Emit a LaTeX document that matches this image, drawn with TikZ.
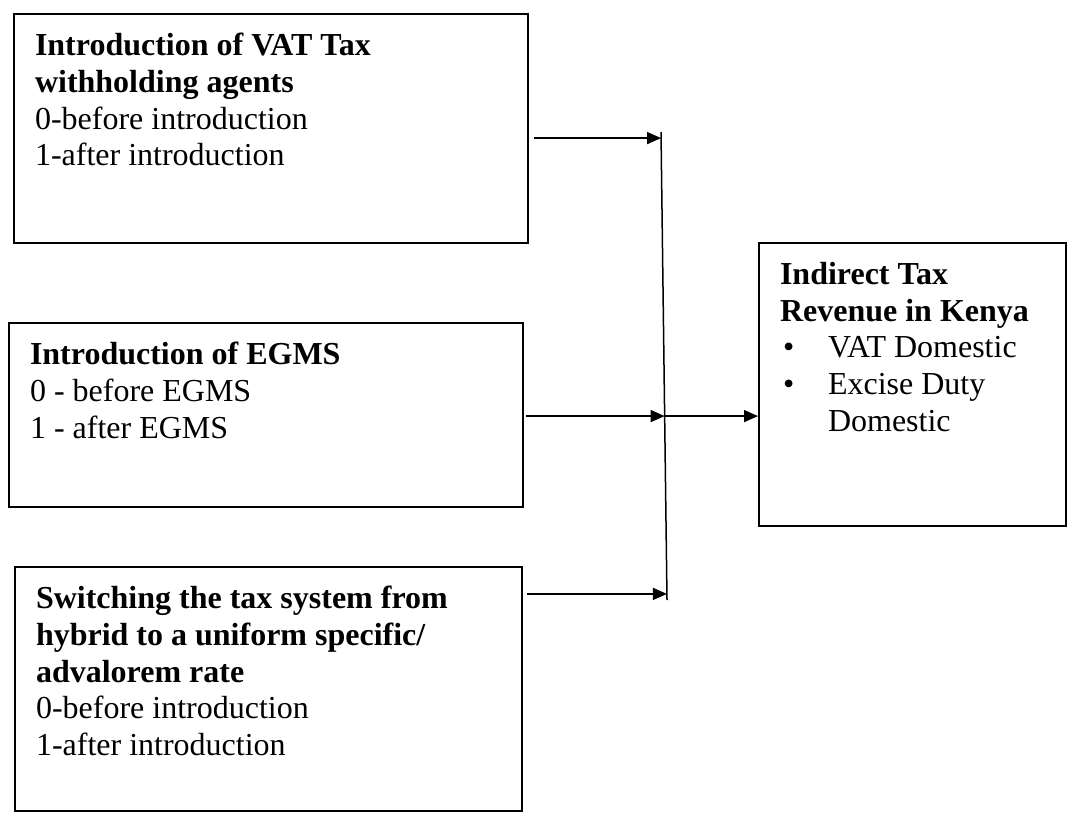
\documentclass[tikz,border=0pt]{standalone}
\usepackage{fontspec}
\setmainfont{Liberation Serif}
\usetikzlibrary{arrows.meta,calc}
\newcommand{\boxtext}[3]{\parbox[c][#2][t]{#1}{\raggedright #3}}
\newcommand{\itembullet}{\makebox[24pt][l]{\hspace{1.5pt}\textbullet}}

\begin{document}
\begin{tikzpicture}[
    x=0.5pt, y=-0.5pt,
    font=\fontsize{16}{18.4}\selectfont,
    factor/.style={draw, line width=1pt, anchor=north west, inner xsep=10.5pt, inner ysep=9.5pt},
    conn/.style={-{Triangle[length=7pt,width=6pt]}, line width=0.75pt}
]
\useasboundingbox (0,0) rectangle (1068,812);

\node[factor] (vat) at (13,13) {\boxtext{236pt}{95.5pt}{%
    \textbf{Introduction of VAT Tax}\\
    \textbf{withholding agents}\\
    0-before introduction\\
    1-after introduction}};
\node[factor] (egms) at (8,322) {\boxtext{236pt}{73pt}{%
    \textbf{Introduction of EGMS}\\
    0 - before EGMS\\
    1 - after EGMS}};
\node[factor] (switch) at (14,566) {\boxtext{232.5pt}{103pt}{%
    \textbf{Switching the tax system from}\\
    \textbf{hybrid to a uniform specific/}\\
    \textbf{advalorem rate}\\
    0-before introduction\\
    1-after introduction}};
\node[factor] (rev) at (758,242) {\boxtext{132.5pt}{122.5pt}{%
    \textbf{Indirect Tax}\\
    \textbf{Revenue in Kenya}\\
    \itembullet VAT Domestic\\
    \itembullet Excise Duty\\
    \hspace*{24pt}Domestic}};

% joining line
\coordinate (vtop) at (661,132);
\coordinate (vbot) at (667,600);
\coordinate (j1) at ($(vtop)!0.013!(vbot)$);
\coordinate (j2) at ($(vtop)!0.607!(vbot)$);
\coordinate (j3) at ($(vtop)!0.987!(vbot)$);
\draw[line width=0.75pt] (vtop) -- (vbot);

\draw[conn] ($(vat.east |- j1)+(5,0)$) -- (j1);
\draw[conn] ($(egms.east |- j2)+(2,0)$) -- (j2);
\draw[conn] ($(switch.east |- j3)+(4,0)$) -- (j3);
\draw[conn] (j2) -- (rev.west |- j2);
\end{tikzpicture}
\end{document}
